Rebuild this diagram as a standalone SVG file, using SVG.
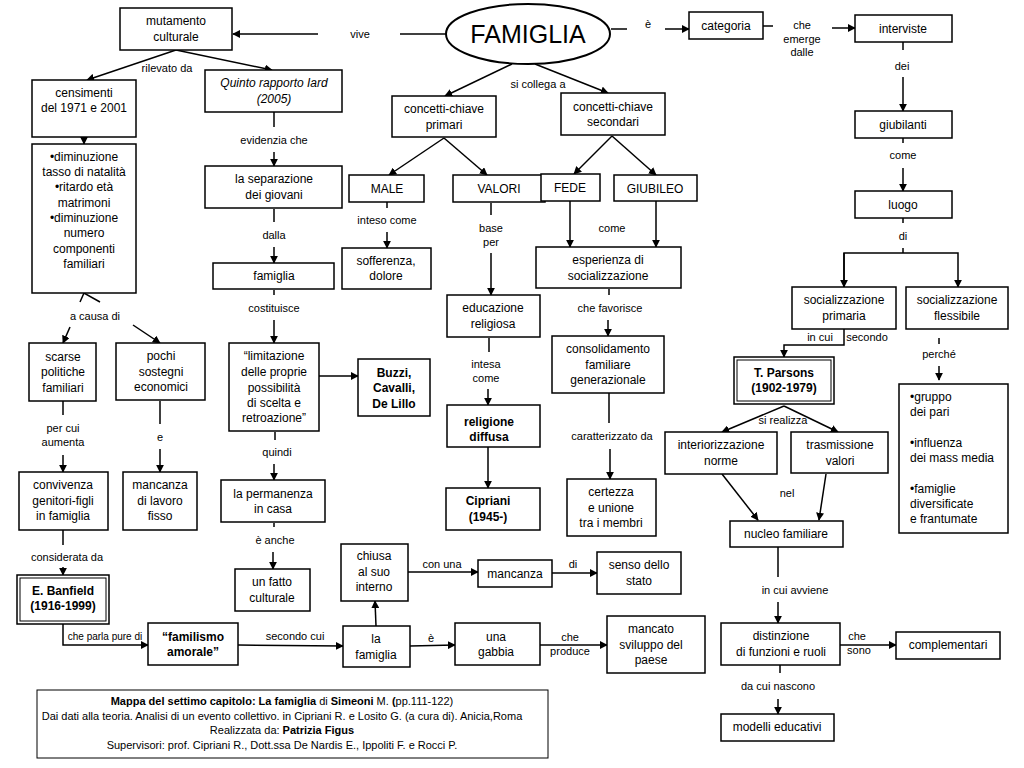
<svg xmlns="http://www.w3.org/2000/svg" width="1024" height="768" viewBox="0 0 1024 768">
<style>
.b{fill:#fff;stroke:#000;stroke-width:1.5}
.t{font-family:"Liberation Sans",Arial,sans-serif;font-size:12px;text-anchor:middle;fill:#000}
.l{font-family:"Liberation Sans",Arial,sans-serif;font-size:11px;text-anchor:middle;fill:#000}
.bd{font-weight:bold}
.c line,.c path{stroke:#000;stroke-width:1.5;fill:none}
.a{marker-end:url(#ar)}
</style>
<defs><marker id="ar" viewBox="0 0 10 10" refX="9" refY="5" markerWidth="8" markerHeight="8" markerUnits="userSpaceOnUse" orient="auto"><path d="M0,0L10,5L0,10z" fill="#000"/></marker></defs>
<rect width="1024" height="768" fill="#fff"/>
<g class="c">
<line class="a" x1="318" y1="34" x2="233" y2="34"/><line x1="400" y1="34" x2="447" y2="34"/>
<line x1="611" y1="29" x2="627" y2="29"/><line class="a" x1="665" y1="29" x2="689" y2="29"/>
<line x1="763" y1="26" x2="773" y2="26"/><line class="a" x1="832" y1="28" x2="855" y2="28"/>
<line x1="903" y1="42" x2="903" y2="50"/><line class="a" x1="903" y1="77" x2="903" y2="111"/>
<line x1="903" y1="138" x2="903" y2="143"/><line class="a" x1="903" y1="168" x2="903" y2="191"/>
<line x1="903" y1="218" x2="903" y2="223"/><line x1="903" y1="248" x2="903" y2="253"/>
<path d="M844,287V253H958V287" class="a"/><line class="a" x1="844" y1="253" x2="844" y2="287"/>
<path class="a" d="M844,329V345H784V357"/>
<line x1="939" y1="338" x2="939" y2="344"/><line class="a" x1="939" y1="366" x2="939" y2="380"/>
<line class="a" x1="784" y1="406" x2="722" y2="432"/><line class="a" x1="784" y1="406" x2="838" y2="432"/>
<line class="a" x1="722" y1="474" x2="758" y2="520"/><line class="a" x1="826" y1="474" x2="819" y2="520"/>
<line x1="778" y1="547" x2="778" y2="577"/><line class="a" x1="778" y1="602" x2="778" y2="623"/>
<line class="a" x1="840" y1="645" x2="896" y2="645"/>
<line x1="780" y1="665" x2="780" y2="673"/><line class="a" x1="778" y1="699" x2="778" y2="714"/>
<line class="a" x1="512" y1="64" x2="445" y2="96"/><line class="a" x1="535" y1="64" x2="608" y2="93"/>
<line class="a" x1="444" y1="138" x2="389" y2="175"/><line class="a" x1="444" y1="138" x2="487" y2="175"/>
<line class="a" x1="612" y1="136" x2="574" y2="174"/><line class="a" x1="612" y1="136" x2="656" y2="175"/>
<line x1="387" y1="202" x2="387" y2="208"/><line class="a" x1="387" y1="232" x2="387" y2="248"/>
<line x1="491" y1="203" x2="491" y2="215"/><line class="a" x1="491" y1="253" x2="491" y2="295"/>
<line x1="489" y1="338" x2="489" y2="352"/><line class="a" x1="488" y1="389" x2="488" y2="405"/>
<line class="a" x1="488" y1="447" x2="488" y2="488"/>
<line class="a" x1="570" y1="201" x2="570" y2="247"/><line class="a" x1="656" y1="201" x2="656" y2="247"/>
<line x1="609" y1="289" x2="609" y2="295"/><line class="a" x1="608" y1="320" x2="608" y2="336"/>
<line x1="609" y1="393" x2="609" y2="423"/><line class="a" x1="610" y1="449" x2="610" y2="479"/>
<line class="a" x1="176" y1="50" x2="87" y2="80"/><line class="a" x1="176" y1="50" x2="272" y2="70"/>
<line class="a" x1="84" y1="137" x2="84" y2="144"/>
<path d="M80,302L84,293L100,302"/>
<line class="a" x1="70" y1="327" x2="63" y2="343"/><line class="a" x1="133" y1="325" x2="160" y2="343"/>
<line x1="63" y1="401" x2="63" y2="415"/><line class="a" x1="63" y1="455" x2="63" y2="472"/>
<line x1="160" y1="401" x2="160" y2="424"/><line class="a" x1="160" y1="449" x2="160" y2="472"/>
<line x1="63" y1="530" x2="63" y2="545"/><line class="a" x1="63" y1="567" x2="63" y2="575"/>
<path class="a" d="M63,624V645H148"/>
<line class="a" x1="238" y1="645" x2="343" y2="646"/>
<line class="a" x1="376" y1="626" x2="375" y2="601"/>
<line class="a" x1="408" y1="572" x2="478" y2="572"/>
<line class="a" x1="552" y1="573" x2="597" y2="573"/>
<line class="a" x1="410" y1="646" x2="455" y2="645"/>
<line class="a" x1="540" y1="645" x2="607" y2="645"/>
<line x1="274" y1="112" x2="274" y2="127"/><line class="a" x1="274" y1="152" x2="274" y2="166"/>
<line x1="274" y1="209" x2="274" y2="222"/><line class="a" x1="274" y1="247" x2="274" y2="263"/>
<line x1="274" y1="290" x2="274" y2="295"/><line class="a" x1="274" y1="320" x2="274" y2="343"/>
<line class="a" x1="319" y1="376" x2="358" y2="376"/>
<line x1="275" y1="432" x2="275" y2="440"/><line class="a" x1="274" y1="464" x2="274" y2="480"/>
<line x1="274" y1="523" x2="274" y2="527"/><line class="a" x1="273" y1="552" x2="273" y2="569"/>
</g>
<g id="famiglia"><ellipse cx="528" cy="34" rx="82" ry="30" fill="#fff" stroke="#000" stroke-width="2"/><text x="528" y="43" class="t" style="font-size:25px">FAMIGLIA</text></g>
<g id="mutamento"><rect class="b" x="120" y="8" width="112" height="42"/><text class="t" x="176" y="25">mutamento</text><text class="t" x="176" y="41">culturale</text></g>
<g id="categoria"><rect class="b" x="689" y="12" width="74" height="27"/><text class="t" x="726" y="30">categoria</text></g>
<g id="interviste"><rect class="b" x="855" y="15" width="97" height="27"/><text class="t" x="903" y="33">interviste</text></g>
<g id="giubilanti"><rect class="b" x="855" y="111" width="97" height="27"/><text class="t" x="903" y="129">giubilanti</text></g>
<g id="luogo"><rect class="b" x="855" y="191" width="97" height="27"/><text class="t" x="903" y="209">luogo</text></g>
<g id="socprim"><rect class="b" x="792" y="287" width="104" height="42"/><text class="t" x="844" y="304">socializzazione</text><text class="t" x="844" y="320">primaria</text></g>
<g id="socfless"><rect class="b" x="906" y="287" width="102" height="42"/><text class="t" x="957" y="304">socializzazione</text><text class="t" x="957" y="320">flessibile</text></g>
<g id="parsons"><rect class="b" x="734" y="357" width="100" height="47"/><rect x="737" y="360" width="94" height="41" fill="none" stroke="#000"/><text class="t bd" x="784" y="377">T. Parsons</text><text class="t bd" x="784" y="392">(1902-1979)</text></g>
<g id="interior"><rect class="b" x="665" y="432" width="112" height="42"/><text class="t" x="721" y="449">interiorizzazione</text><text class="t" x="721" y="465">norme</text></g>
<g id="trasm"><rect class="b" x="791" y="432" width="97" height="41"/><text class="t" x="840" y="449">trasmissione</text><text class="t" x="840" y="465">valori</text></g>
<g id="nucleo"><rect class="b" x="730" y="521" width="113" height="26"/><text class="t" x="786" y="538">nucleo familiare</text></g>
<g id="distinzione"><rect class="b" x="721" y="623" width="119" height="42"/><text class="t" x="781" y="640">distinzione</text><text class="t" x="781" y="656">di funzioni e ruoli</text></g>
<g id="complementari"><rect class="b" x="896" y="632" width="104" height="27"/><text class="t" x="948" y="649">complementari</text></g>
<g id="modelli"><rect class="b" x="721" y="714" width="113" height="27"/><text class="t" x="777" y="731">modelli educativi</text></g>
<g id="lista"><rect class="b" x="899" y="384" width="109" height="149"/><g class="t" style="text-anchor:start"><text x="910" y="401">•gruppo</text><text x="910" y="416">dei pari</text><text x="910" y="447">•influenza</text><text x="910" y="462">dei mass media</text><text x="910" y="493">•famiglie</text><text x="910" y="508">diversificate</text><text x="910" y="523">e frantumate</text></g></g>
<g id="primari"><rect class="b" x="392" y="96" width="104" height="41"/><text class="t" x="444" y="113">concetti-chiave</text><text class="t" x="444" y="129">primari</text></g>
<g id="secondari"><rect class="b" x="561" y="93" width="104" height="42"/><text class="t" x="613" y="111">concetti-chiave</text><text class="t" x="613" y="126">secondari</text></g>
<g id="male"><rect class="b" x="349" y="175" width="75" height="27"/><text class="t" x="387" y="193">MALE</text></g>
<g id="valori"><rect class="b" x="453" y="175" width="92" height="27"/><text class="t" x="499" y="193">VALORI</text></g>
<g id="fede"><rect class="b" x="541" y="174" width="59" height="27"/><text class="t" x="570" y="192">FEDE</text></g>
<g id="giubileo"><rect class="b" x="614" y="175" width="83" height="26"/><text class="t" x="655" y="193">GIUBILEO</text></g>
<g id="sofferenza"><rect class="b" x="342" y="248" width="89" height="41"/><text class="t" x="386" y="265">sofferenza,</text><text class="t" x="386" y="280">dolore</text></g>
<g id="educazione"><rect class="b" x="447" y="295" width="93" height="42"/><text class="t" x="493" y="312">educazione</text><text class="t" x="493" y="328">religiosa</text></g>
<g id="religione"><rect class="b" x="447" y="405" width="93" height="42"/><text class="t bd" x="489" y="426">religione</text><text class="t bd" x="489" y="441">diffusa</text></g>
<g id="cipriani"><rect class="b" x="446" y="488" width="94" height="42"/><text class="t bd" x="488" y="505">Cipriani</text><text class="t bd" x="488" y="521">(1945-)</text></g>
<g id="esperienza"><rect class="b" x="536" y="247" width="145" height="41"/><text class="t" x="608" y="264">esperienza di</text><text class="t" x="608" y="280">socializzazione</text></g>
<g id="consolidamento"><rect class="b" x="552" y="336" width="112" height="57"/><text class="t" x="608" y="353">consolidamento</text><text class="t" x="608" y="369">familiare</text><text class="t" x="608" y="384">generazionale</text></g>
<g id="certezza"><rect class="b" x="567" y="479" width="89" height="57"/><text class="t" x="611" y="496">certezza</text><text class="t" x="611" y="512">e unione</text><text class="t" x="611" y="527">tra i membri</text></g>
<g id="censimenti"><rect class="b" x="32" y="80" width="104" height="57"/><text class="t" x="84" y="97">censimenti</text><text class="t" x="84" y="112">del 1971 e 2001</text></g>
<g id="dati"><rect class="b" x="32" y="144" width="104" height="149"/><g class="t"><text x="84" y="161">•diminuzione</text><text x="84" y="176">tasso di natalità</text><text x="84" y="191">•ritardo età</text><text x="84" y="207">matrimoni</text><text x="84" y="222">•diminuzione</text><text x="84" y="237">numero</text><text x="84" y="253">componenti</text><text x="84" y="268">familiari</text></g></g>
<g id="scarse"><rect class="b" x="29" y="343" width="67" height="58"/><text class="t" x="63" y="361">scarse</text><text class="t" x="63" y="376">politiche</text><text class="t" x="63" y="392">familiari</text></g>
<g id="pochi"><rect class="b" x="116" y="343" width="89" height="57"/><text class="t" x="161" y="360">pochi</text><text class="t" x="161" y="376">sostegni</text><text class="t" x="161" y="391">economici</text></g>
<g id="convivenza"><rect class="b" x="19" y="472" width="89" height="58"/><text class="t" x="63" y="489">convivenza</text><text class="t" x="63" y="505">genitori-figli</text><text class="t" x="63" y="520">in famiglia</text></g>
<g id="mancanzalavoro"><rect class="b" x="123" y="472" width="74" height="58"/><text class="t" x="160" y="489">mancanza</text><text class="t" x="160" y="505">di lavoro</text><text class="t" x="160" y="520">fisso</text></g>
<g id="banfield"><rect class="b" x="17" y="575" width="92" height="49"/><rect x="20" y="578" width="86" height="43" fill="none" stroke="#000"/><text class="t bd" x="63" y="595">E. Banfield</text><text class="t bd" x="63" y="610">(1916-1999)</text></g>
<g id="familismo"><rect class="b" x="148" y="623" width="90" height="42"/><text class="t bd" x="193" y="641">“familismo</text><text class="t bd" x="193" y="656">amorale”</text></g>
<g id="lafamiglia"><rect class="b" x="343" y="626" width="67" height="41"/><text class="t" x="376" y="643">la</text><text class="t" x="376" y="659">famiglia</text></g>
<g id="chiusa"><rect class="b" x="341" y="544" width="67" height="57"/><text class="t" x="374" y="560">chiusa</text><text class="t" x="374" y="576">al suo</text><text class="t" x="374" y="591">interno</text></g>
<g id="mancanza"><rect class="b" x="478" y="560" width="74" height="27"/><text class="t" x="515" y="578">mancanza</text></g>
<g id="senso"><rect class="b" x="597" y="552" width="84" height="42"/><text class="t" x="639" y="569">senso dello</text><text class="t" x="639" y="585">stato</text></g>
<g id="gabbia"><rect class="b" x="455" y="623" width="85" height="42"/><text class="t" x="496" y="641">una</text><text class="t" x="496" y="656">gabbia</text></g>
<g id="mancato"><rect class="b" x="607" y="616" width="98" height="57"/><text class="t" x="651" y="633">mancato</text><text class="t" x="651" y="649">sviluppo del</text><text class="t" x="651" y="664">paese</text></g>
<g id="quinto"><rect class="b" x="205" y="70" width="137" height="42"/><text class="t" x="274" y="87" font-style="italic">Quinto rapporto Iard</text><text class="t" x="274" y="103" font-style="italic">(2005)</text></g>
<g id="separazione"><rect class="b" x="205" y="166" width="137" height="42"/><text class="t" x="274" y="183">la separazione</text><text class="t" x="274" y="199">dei giovani</text></g>
<g id="famiglia2"><rect class="b" x="213" y="263" width="121" height="26"/><text class="t" x="274" y="280">famiglia</text></g>
<g id="limitazione"><rect class="b" x="229" y="343" width="90" height="88"/><g class="t"><text x="274" y="360">“limitazione</text><text x="274" y="376">delle proprie</text><text x="274" y="392">possibilità</text><text x="274" y="407">di scelta e</text><text x="274" y="422">retroazione”</text></g></g>
<g id="buzzi"><rect class="b" x="358" y="359" width="72" height="57"/><text class="t bd" x="394" y="377">Buzzi,</text><text class="t bd" x="394" y="392">Cavalli,</text><text class="t bd" x="394" y="408">De Lillo</text></g>
<g id="permanenza"><rect class="b" x="221" y="480" width="104" height="42"/><text class="t" x="273" y="498">la permanenza</text><text class="t" x="273" y="513">in casa</text></g>
<g id="fatto"><rect class="b" x="235" y="569" width="75" height="42"/><text class="t" x="272" y="586">un fatto</text><text class="t" x="272" y="602">culturale</text></g>
<g id="labels" class="l">
<text x="360" y="38">vive</text><text x="648" y="28">è</text>
<text x="802" y="29">che</text><text x="802" y="43">emerge</text><text x="802" y="56">dalle</text>
<text x="902" y="70">dei</text><text x="903" y="159">come</text><text x="903" y="240">di</text>
<text x="820" y="341">in  cui</text><text x="867" y="341">secondo</text><text x="939" y="358">perché</text>
<text x="783" y="424">si realizza</text><text x="787" y="497">nel</text><text x="795" y="594">in cui  avviene</text>
<text x="869" y="640" style="text-anchor:start" x1="0"></text>
<text x="857" y="640">che</text><text x="859" y="654">sono</text>
<text x="778" y="690">da cui nascono</text>
<text x="538" y="88">si collega a</text>
<text x="387" y="224">inteso come</text><text x="491" y="232">base</text><text x="491" y="246">per</text>
<text x="486" y="368">intesa</text><text x="486" y="382">come</text>
<text x="612" y="232">come</text><text x="610" y="312">che favorisce</text><text x="612" y="440">caratterizzato da</text>
<text x="167" y="72">rilevato da</text><text x="95" y="320">a causa di</text>
<text x="63" y="432">per cui</text><text x="63" y="446">aumenta</text><text x="160" y="441">e</text>
<text x="67" y="561">considerata da</text><text x="105" y="640" style="font-size:10px">che parla pure di</text>
<text x="295" y="640">secondo cui</text><text x="442" y="568">con una</text><text x="573" y="568">di</text>
<text x="431" y="642">è</text><text x="570" y="641">che</text><text x="570" y="655">produce</text>
<text x="274" y="144">evidenzia che</text><text x="274" y="239">dalla</text><text x="274" y="312">costituisce</text>
<text x="277" y="456">quindi</text><text x="275" y="544">è anche</text>
</g>
<g id="legenda"><rect x="37" y="690" width="511" height="68" fill="#fff" stroke="#000"/>
<g class="l"><text x="282" y="705"><tspan class="bd">Mappa del settimo capitolo: La famiglia</tspan> di <tspan class="bd">Simeoni</tspan> M. <tspan class="bd">(</tspan>pp.111-122)</text>
<text x="282" y="720">Dai dati alla teoria. Analisi di un evento collettivo. in Cipriani R. e Losito G. (a cura di). Anicia,Roma</text>
<text x="282" y="734">Realizzata da: <tspan class="bd">Patrizia Figus</tspan></text>
<text x="282" y="749">Supervisori: prof. Cipriani R., Dott.ssa De Nardis E., Ippoliti F. e Rocci P.</text></g></g>
</svg>
